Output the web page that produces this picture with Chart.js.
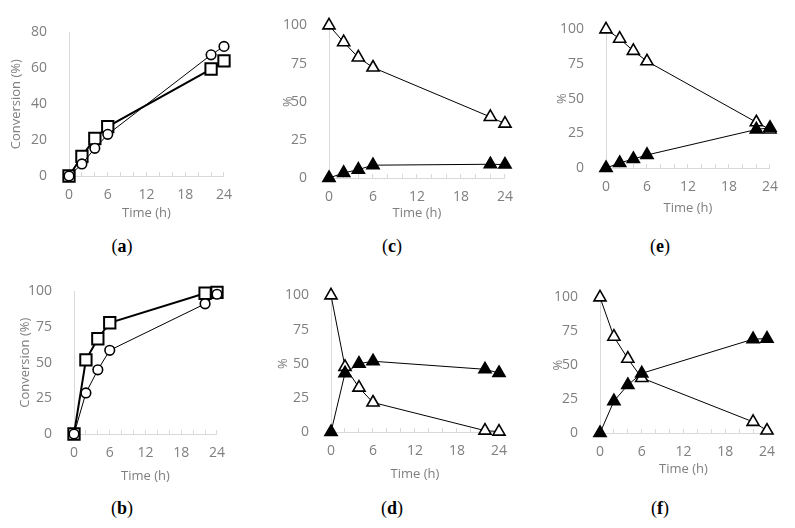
<!DOCTYPE html>
<html><head><meta charset="utf-8">
<script src="https://cdn.jsdelivr.net/npm/chart.js@4.4.1/dist/chart.umd.min.js"></script>
<style>
html,body{margin:0;padding:0;background:#fff;}
body{width:795px;height:528px;position:relative;overflow:hidden;}
canvas.pc{position:absolute;}
.lbl{position:absolute;font-family:"Liberation Serif","DejaVu Serif",serif;font-size:18px;color:#000;transform:translate(-50%,-50%);white-space:nowrap;}
.lbl b{font-weight:bold;}
</style></head><body>
<canvas id="pa" class="pc"></canvas>
<canvas id="pb" class="pc"></canvas>
<canvas id="pc" class="pc"></canvas>
<canvas id="pd" class="pc"></canvas>
<canvas id="pe" class="pc"></canvas>
<canvas id="pf" class="pc"></canvas>
<div class="lbl" style="left:122px;top:246px">(<b>a</b>)</div>
<div class="lbl" style="left:392px;top:246px">(<b>c</b>)</div>
<div class="lbl" style="left:660px;top:246px">(<b>e</b>)</div>
<div class="lbl" style="left:122px;top:508px">(<b>b</b>)</div>
<div class="lbl" style="left:392px;top:508px">(<b>d</b>)</div>
<div class="lbl" style="left:660px;top:508px">(<b>f</b>)</div>
<script>
// ---- data ----
const hours = [0, 2, 4, 6, 22, 24];
const timeTickLabels = [0, 6, 12, 18, 24];
const conversionTicksA = [0, 20, 40, 60, 80];
const percentTicks = [0, 25, 50, 75, 100];

const aSquares = [0, 10.9, 20.9, 27.5, 59.6, 64.1];
const aCircles = [0, 6.7, 15.4, 23.2, 67.5, 72.2];
const bSquares = [0, 52, 66.8, 78, 98.7, 99.3];
const bCircles = [0, 28.8, 45, 58.7, 91.3, 98];
const cOpen   = [100, 89, 79, 72.4, 40, 35.6];
const cFilled = [0, 3.3, 5.5, 8.4, 9, 8.8];
const dOpen   = [100, 47.7, 32.5, 21.6, 1, 0.3];
const dFilled = [0, 43, 50, 51.8, 45.9, 43.2];
const eOpen   = [100, 93.3, 84.5, 77, 33, 27.8];
const eFilled = [0, 3.6, 6.5, 9.4, 27.8, 29];
const fOpen   = [100, 71, 54.8, 40.6, 8.2, 1.8];
const fFilled = [0, 23.5, 35.4, 44, 69.2, 69.6];

// ---- styles / layout ----
const GRAY = '#7f7f7f', AXIS = '#d9d9d9';
const TICKFONT = {family: '"Open Sans","Noto Sans",sans-serif', size: 14};
const TITLEFONT = {family: '"Open Sans","Noto Sans",sans-serif', size: 13};

function pts(vals){ return hours.map((x,i)=>({x:x, y:vals[i]})); }
function squares(vals){ return {data:pts(vals), showLine:true, borderColor:'#000', borderWidth:2, pointStyle:'rect', pointRadius:8, pointBackgroundColor:'#fff', pointBorderColor:'#000', pointBorderWidth:2, clip:false}; }
function circles(vals){ return {data:pts(vals), showLine:true, borderColor:'#000', borderWidth:1, pointStyle:'circle', pointRadius:4.8, pointBackgroundColor:'#fff', pointBorderColor:'#000', pointBorderWidth:1.6, clip:false}; }
function openTri(vals){ return {data:pts(vals), showLine:true, borderColor:'#000', borderWidth:1, pointStyle:'triangle', pointRadius:7, pointBackgroundColor:'#fff', pointBorderColor:'#000', pointBorderWidth:1.6, clip:false}; }
function fillTri(vals){ return {data:pts(vals), showLine:true, borderColor:'#000', borderWidth:1, pointStyle:'triangle', pointRadius:7, pointBackgroundColor:'#000', pointBorderColor:'#000', pointBorderWidth:1.6, clip:false}; }

function panel(id, g, datasets, yTicks, yTitle){
  const c = document.getElementById(id);
  const W = g.yW + g.plotW + g.padRight, H = g.padTop + g.plotH + g.xH;
  c.width = W; c.height = H;
  c.style.left = g.left + 'px'; c.style.top = g.top + 'px';
  c.style.width = W + 'px'; c.style.height = H + 'px';
  const yStep = yTicks[1] - yTicks[0];
  new Chart(c, {
    type: 'scatter',
    data: {datasets: datasets},
    options: {
      responsive:false, animation:false, devicePixelRatio:1,
      layout:{padding:{top:g.padTop, right:g.padRight, left:0, bottom:0}},
      plugins:{legend:{display:false}, tooltip:{enabled:false}},
      scales:{
        x:{type:'linear', min:0, max:24,
           afterFit:(s)=>{ s.height = g.xH; },
           ticks:{stepSize:2, autoSkip:false, maxRotation:0, padding:15, color:GRAY, font:TICKFONT,
                  callback:(v)=> timeTickLabels.includes(v) ? String(v) : ''},
           grid:{drawOnChartArea:false, drawTicks:true, tickLength:-4, color:AXIS},
           border:{color:AXIS, width:1},
           title:{display:true, text:'Time (h)', color:GRAY, font:TITLEFONT, padding:{top:0,bottom:0}}
        },
        y:{min:yTicks[0], max:yTicks[yTicks.length-1],
           afterFit:(s)=>{ s.width = g.yW; },
           ticks:{stepSize:yStep, padding:14, color:GRAY, font:TICKFONT},
           grid:{display:false},
           border:{display:true, color:AXIS, width:1},
           title:{display:true, text:yTitle, color:GRAY, font:TITLEFONT, padding:{top:0,bottom:0}}
        }
      }
    }
  });
}

panel('pa', {left:8,  top:10,  yW:61, plotW:164, padRight:14, padTop:12, plotH:154, xH:45},
      [circles(aCircles), squares(aSquares)], conversionTicksA, 'Conversion (%)');
panel('pc', {left:280, top:3,  yW:49, plotW:185, padRight:14, padTop:12, plotH:163, xH:43},
      [fillTri(cFilled), openTri(cOpen)], percentTicks, '%');
panel('pe', {left:554, top:7,  yW:52, plotW:173, padRight:14, padTop:12, plotH:149, xH:48},
      [fillTri(eFilled), openTri(eOpen)], percentTicks, '%');
panel('pb', {left:17, top:269, yW:57, plotW:152, padRight:14, padTop:12, plotH:153, xH:50},
      [circles(bCircles), squares(bSquares)], percentTicks, 'Conversion (%)');
panel('pd', {left:275, top:273, yW:56, plotW:177, padRight:14, padTop:12, plotH:147, xH:50},
      [fillTri(dFilled), openTri(dOpen)], percentTicks, '%');
panel('pf', {left:550, top:275, yW:50, plotW:176, padRight:14, padTop:12, plotH:146, xH:44},
      [fillTri(fFilled), openTri(fOpen)], percentTicks, '%');
</script>
</body></html>
